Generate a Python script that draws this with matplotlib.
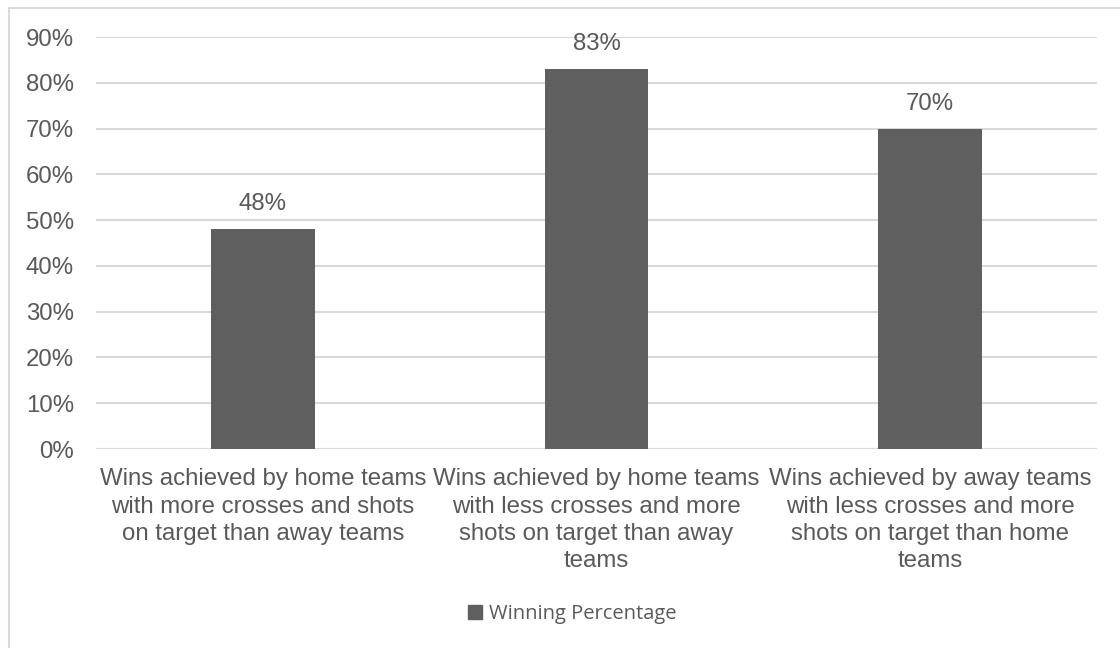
import matplotlib.pyplot as plt
import matplotlib.patches as mpatches
import numpy as np

# Dados
categorias = [
    "Wins achieved by home teams\nwith more crosses and shots\non target than away teams",
    "Wins achieved by home teams\nwith less crosses and more\nshots on target than away\nteams",
    "Wins achieved by away teams\nwith less crosses and more\nshots on target than home\nteams",
]
valores = [0.48, 0.83, 0.70]
rotulos = ["48%", "83%", "70%"]
yticks = [0.0, 0.1, 0.2, 0.3, 0.4, 0.5, 0.6, 0.7, 0.8, 0.9]
legenda = "Winning Percentage"

cor_barra = "#5f5f5f"
cor_texto = "#595959"
cor_grade = "#d9d9d9"
tam = 17.3

plt.rcParams['font.family'] = ['Liberation Sans', 'DejaVu Sans']

fig = plt.figure(figsize=(11.2, 6.48), dpi=100)
ax = fig.add_axes([96 / 1120, 1 - 449 / 648, (1097 - 96) / 1120, (449 - 37) / 648])

# Borda do gráfico
borda = mpatches.Rectangle((9 / 1120, -0.1), 1.2, 1 - 8 / 648 + 0.1, transform=fig.transFigure,
                           fill=False, edgecolor=cor_grade, linewidth=1.5)
fig.patches.append(borda)

x = np.arange(len(categorias))
barras = ax.bar(x, valores, width=0.31, color=cor_barra, zorder=3)

for xi, v, r in zip(x, valores, rotulos):
    ax.annotate(r, (xi, v), xytext=(0, 10), textcoords='offset points',
                ha='center', va='bottom', fontsize=tam, color=cor_texto)

ax.set_xlim(-0.5, 2.5)
ax.set_ylim(0, 0.9)
ax.set_yticks(yticks)
ax.set_yticklabels([f"{int(round(t * 100))}%" for t in yticks], fontsize=tam, color=cor_texto)
ax.set_xticks(x)
ax.set_xticklabels(categorias, fontsize=tam, color=cor_texto, linespacing=1.31)
ax.tick_params(axis='y', length=0, pad=16)
ax.tick_params(axis='x', length=0, pad=14)

ax.grid(axis='y', color=cor_grade, linewidth=1.5, zorder=0)
for s in ax.spines.values():
    s.set_visible(False)
ax.axhline(0, color=cor_grade, linewidth=1.5, zorder=1)

handle = mpatches.Patch(color=cor_barra, label=legenda)
fig.legend(handles=[handle], loc='center', bbox_to_anchor=(572 / 1120, 1 - 614 / 648),
           frameon=False, prop={'family': 'Open Sans', 'size': 14.5},
           labelcolor=cor_texto, handlelength=0.7, handleheight=0.7, handletextpad=0.35)

fig.savefig("out.png", dpi=100)
